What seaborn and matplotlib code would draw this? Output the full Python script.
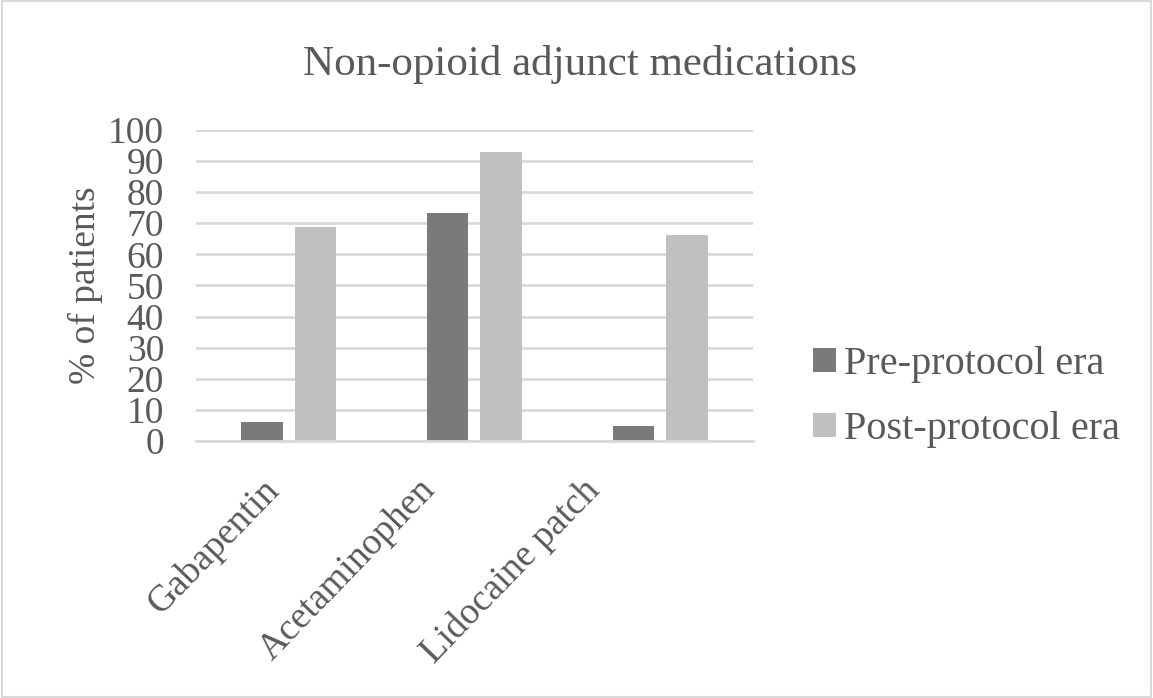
import matplotlib
matplotlib.use("Agg")
import matplotlib.pyplot as plt
import matplotlib.transforms as mtransforms
import seaborn as sns
import pandas as pd
from matplotlib.patches import Rectangle

categories = ["Gabapentin", "Acetaminophen", "Lidocaine patch"]
series_names = ["Pre-protocol era", "Post-protocol era"]
pre_values = [6.2, 73.4, 4.9]
post_values = [68.9, 92.8, 66.1]
y_ticks = [0, 10, 20, 30, 40, 50, 60, 70, 80, 90, 100]

df = pd.DataFrame({
    "Medication": categories * 2,
    "Era": [series_names[0]] * 3 + [series_names[1]] * 3,
    "Percent": pre_values + post_values,
})

sns.set_style("white")
plt.rcParams['font.family'] = ['Liberation Serif', 'DejaVu Serif']
text_color = "#595959"

fig = plt.figure(figsize=(11.53, 6.98), dpi=100)
ax = fig.add_axes([0.170, 0.368, 0.483, 0.446])

sns.barplot(data=df, x="Medication", y="Percent", hue="Era",
            palette=["#7a7a7a", "#c0c0c0"], width=0.577, gap=0.224,
            ax=ax, saturation=1, edgecolor="none")

ax.set_ylim(0, 100)
ax.set_xlim(-0.5, 2.5)
ax.set_yticks(y_ticks)
ax.yaxis.grid(True, color="#d9d9d9", linewidth=2)
ax.set_axisbelow(True)
for s in ["top", "right", "left"]:
    ax.spines[s].set_visible(False)
ax.spines["bottom"].set_color("#d9d9d9")
ax.spines["bottom"].set_linewidth(2)
ax.tick_params(axis="y", length=0, pad=23, labelsize=27, labelcolor=text_color)
ax.tick_params(axis="x", length=0, pad=20, labelsize=27, labelcolor=text_color)

# shift of each rotated category label (in pixels) to match the reference placement
label_shift_px = [-28, -57, -78]
for lbl, dx in zip(ax.get_xticklabels(), label_shift_px):
    lbl.set_rotation(46)
    lbl.set_ha("right")
    lbl.set_rotation_mode("anchor")
    lbl.set_transform(lbl.get_transform() +
                      mtransforms.ScaledTranslation(dx / 100, -4 / 100, fig.dpi_scale_trans))

ax.set_xlabel("")
ax.set_ylabel("% of patients", fontsize=27, color=text_color, labelpad=4)

fig.text(0.503, 0.908, "Non-opioid adjunct medications", ha="center", va="center",
         fontsize=31, color=text_color)

handles, labels = ax.get_legend_handles_labels()
if ax.get_legend() is not None:
    ax.get_legend().remove()
ax.legend(handles, labels, loc="center left", bbox_to_anchor=(0.674, 0.431),
          bbox_transform=fig.transFigure, frameon=False, fontsize=29,
          labelcolor=text_color, handlelength=0.55, handleheight=0.55,
          handletextpad=0.2, labelspacing=0.7)

fig.patches.append(Rectangle((0.002, 0.002), 0.996, 0.996, transform=fig.transFigure,
                             fill=False, edgecolor="#d9d9d9", linewidth=1.5))

fig.savefig("out.png", dpi=100, facecolor="white")
